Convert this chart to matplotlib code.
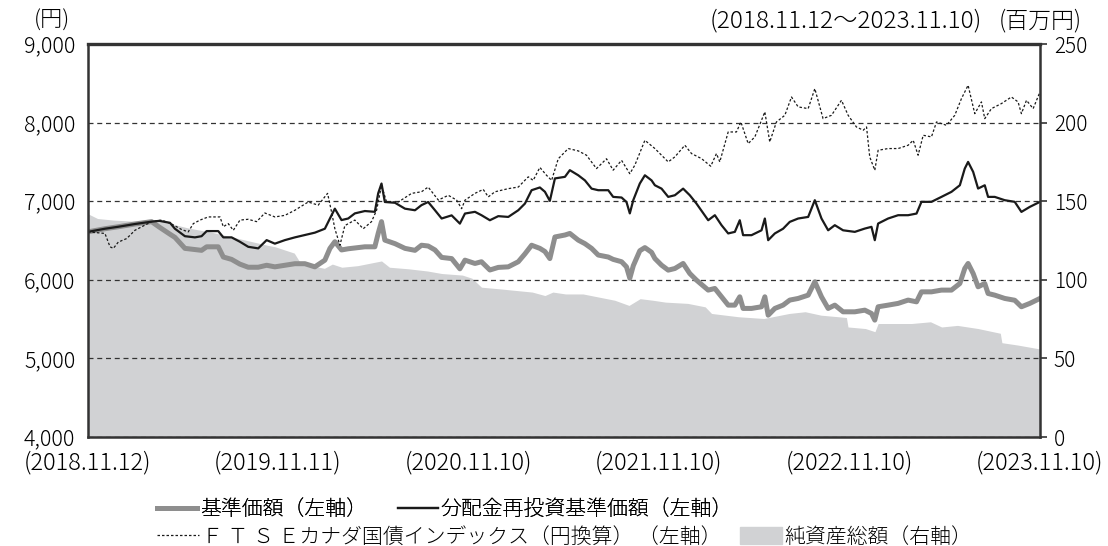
import matplotlib
matplotlib.use("Agg")
import matplotlib.pyplot as plt
import numpy as np
import pandas as pd
from matplotlib.lines import Line2D
from matplotlib.patches import Patch

plt.rcParams["font.family"] = ["Noto Sans CJK JP", "DejaVu Sans"]
plt.rcParams["font.weight"] = "light"

START = pd.Timestamp("2018-11-12")

# months elapsed since 2018.11.12
fund_m = [0.0, 1.07, 1.91, 2.96, 4.01, 4.5, 5.17, 5.48, 6.11, 6.74, 7.16, 7.48, 8.21, 8.53, 9.05, 9.57, 10.1, 10.73, 11.26,
          11.78, 12.41, 13.04, 13.67, 14.3, 14.93, 15.25, 15.56, 15.98, 16.4, 16.82, 17.45, 18.08, 18.29, 18.5, 18.71,
          19.35, 19.98, 20.61, 21.02, 21.44, 21.87, 22.29, 22.92, 23.44,
          23.76, 24.39, 24.8, 25.33, 25.86, 26.49, 27.12, 27.54, 27.96, 28.48, 28.8, 29.11, 29.43, 30.06, 30.37, 30.9,
          31.32, 31.74, 32.16, 32.79, 33.1, 33.63, 33.94, 34.15, 34.37, 34.78, 35.1, 35.52,
          35.73, 36.15, 36.57, 36.99, 37.51, 37.93, 38.35, 39.09, 39.51, 39.93, 40.35, 40.77, 41.08, 41.29, 41.82, 42.45,
          42.66, 42.87, 43.29, 43.81, 44.23, 44.76, 45.39, 45.81, 46.23, 46.65, 47.07, 47.59,
          48.33, 48.96, 49.38, 49.59, 49.8, 50.43, 51.06, 51.69, 52.22, 52.53, 53.16, 53.79, 54.42, 54.95, 55.26, 55.47,
          55.79, 56.1, 56.52, 56.73, 57.15, 57.78, 58.41, 58.83, 59.36, 60.0]

# 分配金再投資基準価額 (円)
reinvested = [6610, 6650, 6675, 6710, 6740, 6750, 6725, 6650, 6555, 6540, 6555, 6620, 6620, 6540, 6540, 6485, 6420, 6400, 6505,
              6460, 6505, 6540, 6570, 6600, 6650, 6780, 6905, 6760, 6780, 6845, 6875, 6865, 7100, 7225, 6990,
              6980, 6905, 6885, 6950, 6990, 6885, 6780, 6820, 6715,
              6843, 6865, 6822, 6758, 6810, 6800, 6885, 6970, 7140, 7175, 7120, 7004, 7290, 7310, 7395, 7330,
              7265, 7160, 7140, 7140, 7055, 7047, 6990, 6845, 7015, 7225, 7330, 7265,
              7203, 7160, 7055, 7076, 7160, 7076, 6970, 6758, 6822, 6695, 6590, 6610, 6758, 6568, 6568, 6630,
              6780, 6504, 6590, 6650, 6737, 6780, 6800, 7013, 6780, 6630, 6695, 6630,
              6610, 6652, 6674, 6504, 6716, 6780, 6822, 6822, 6843, 6992, 6992, 7055, 7119, 7203, 7415, 7500,
              7373, 7161, 7203, 7055, 7055, 7013, 6992, 6864, 6928, 6992]

# 基準価額 (円)
nav = [6610, 6650, 6675, 6710, 6740, 6670, 6580, 6540, 6400, 6385, 6375, 6420, 6420, 6290, 6260, 6200, 6160, 6160, 6185,
       6165, 6185, 6205, 6205, 6165, 6250, 6400, 6485, 6380, 6395, 6405, 6420, 6420, 6590, 6740, 6505,
       6460, 6400, 6375, 6440, 6430, 6380, 6285, 6270, 6140,
       6250, 6208, 6230, 6125, 6158, 6165, 6230, 6330, 6440, 6400, 6360, 6270, 6545, 6570, 6590, 6505,
       6460, 6400, 6315, 6290, 6260, 6230, 6165, 6020, 6180, 6370, 6410, 6350,
       6271, 6186, 6123, 6144, 6208, 6080, 5996, 5869, 5890, 5784, 5678, 5678, 5784, 5636, 5636, 5657,
       5784, 5550, 5636, 5678, 5742, 5763, 5805, 5975, 5784, 5636, 5678, 5593,
       5593, 5614, 5572, 5487, 5657, 5678, 5700, 5742, 5720, 5847, 5847, 5869, 5869, 5953, 6144, 6208,
       6080, 5911, 5953, 5826, 5805, 5763, 5740, 5657, 5700, 5763]

ftse_m = [0.0, 1.07, 1.39, 1.6, 1.91, 2.44, 2.96, 4.01, 4.64, 5.27, 5.9, 6.32, 6.64, 7.06, 7.58, 8.32, 8.53, 8.84, 9.16,
          9.58, 10.1, 10.63, 11.15,
          11.78, 12.41, 13.04, 13.88, 14.51, 15.1, 15.35, 15.56, 15.88, 16.19, 16.82, 17.35, 17.87, 18.19, 18.5, 18.82,
          19.56, 20.4, 21.02, 21.44, 22.08, 22.71, 23.23, 23.55,
          23.76, 24.39, 24.91, 25.23, 25.65, 26.49, 27.12, 27.75, 28.06, 28.48, 28.9, 29.22, 29.64, 30.27, 30.9, 31.42,
          32.05, 32.68, 33.1, 33.63, 34.15, 34.47, 35.1, 35.73,
          36.15, 36.57, 36.99, 37.62, 38.04, 38.67, 39.25, 39.61, 39.82, 40.35, 40.87, 41.15, 41.61, 42.03, 42.66, 42.97,
          43.39, 43.92, 44.34, 44.76, 45.39, 45.81, 46.33, 46.86, 47.49, 47.91,
          48.43, 48.86, 49.07, 49.27, 49.59, 49.8, 50.43, 51.06, 51.69, 52.01, 52.32, 52.64, 53.16, 53.48, 54.11, 54.63,
          55.05, 55.47, 55.89, 56.31, 56.52, 56.94, 57.57, 58.2, 58.62, 58.83, 59.15, 59.57, 60.0]

# FTSEカナダ国債インデックス（円換算）
ftse = [6610, 6590, 6420, 6400, 6480, 6525, 6630, 6740, 6760, 6710, 6640, 6610, 6715, 6760, 6800, 6800, 6675, 6715, 6630,
        6760, 6770, 6740, 6850,
        6800, 6820, 6885, 6990, 6950, 7100, 6865, 6650, 6440, 6690, 6760, 6650, 6740, 6885, 7200, 6990,
        6990, 7100, 7120, 7180, 7015, 7075, 7015, 6905,
        7013, 7100, 7150, 7055, 7120, 7160, 7180, 7310, 7265, 7430, 7330, 7265, 7540, 7670, 7640, 7585,
        7415, 7540, 7395, 7520, 7350, 7460, 7775, 7670,
        7585, 7500, 7564, 7712, 7606, 7542, 7445, 7606, 7500, 7881, 7881, 8008, 7733, 7818, 8136, 7754,
        8008, 8093, 8326, 8200, 8178, 8432, 8051, 8093, 8284, 8093,
        7945, 7903, 7945, 7564, 7394, 7648, 7670, 7670, 7712, 7775, 7585, 7839, 7818, 8008, 7966, 8093,
        8305, 8475, 8114, 8263, 8051, 8178, 8242, 8326, 8263, 8114, 8284, 8178, 8390]

na_m = [0, 0.6, 1.6, 3.4, 4.7, 6.3, 7.9, 9.6, 11.3, 11.8, 13.0, 13.4, 14.9, 15.4, 16.0, 17.0, 18.5, 19.0, 20.2, 21.4,
        22.3, 23.6, 24.2, 24.8, 25.9, 27.0, 28.0, 28.8, 29.3, 30.1, 31.2, 32.2, 33.2, 34.1, 34.8, 35.6, 36.4, 37.8,
        38.9, 39.3, 41.0, 42.6, 44.2, 45.2, 46.2, 47.3, 47.8, 47.9, 49.0, 49.6, 49.8, 51.9, 53.1, 53.8, 54.8, 56.1,
        57.5, 57.6, 58.6, 60.0]

# 純資産総額 (百万円)
net_assets = [142, 139, 138, 137, 137, 133, 130, 126, 122, 121, 117, 110.5, 107.3, 110, 108, 109, 112, 108, 107, 105.6,
              104, 103, 101, 95.3, 94.3, 93.2, 92.2, 90, 92.2, 91, 91, 89, 87, 83.7, 88, 87, 85.8, 85,
              82.8, 78.6, 76.5, 75.4, 78.6, 79.7, 77.5, 76.5, 76, 70, 69, 67, 72.2, 72.2, 73.3, 70, 71, 69,
              66, 60, 58.5, 56]

tick_dates = ["2018-11-12", "2019-11-11", "2020-11-10", "2021-11-10", "2022-11-10", "2023-11-10"]
tick_labels = ["(2018.11.12)", "(2019.11.11)", "(2020.11.10)", "(2021.11.10)", "(2022.11.10)", "(2023.11.10)"]
left_ticks = [4000, 5000, 6000, 7000, 8000, 9000]
right_ticks = [0, 50, 100, 150, 200, 250]

C_AREA = "#d1d2d4"
C_NAV = "#8e8e8e"
C_DARK = "#1a1a1a"
C_FRAME = "#333333"


def to_dates(months):
    return START + pd.to_timedelta(np.asarray(months) * 30.4, unit="D")


fig = plt.figure(figsize=(11.08, 5.46), dpi=100)
ax = fig.add_axes([0.0794, 0.1996, 0.8592, 0.7198])
ax2 = ax.twinx()

ax2.fill_between(to_dates(na_m), net_assets, 0, color=C_AREA, lw=0)
ax2.set_ylim(0, 250)
ax2.set_yticks(right_ticks)
ax2.set_yticklabels([f"{v:,}" for v in right_ticks])
ax2.tick_params(axis="y", direction="out", length=5, width=1.2, color=C_FRAME, pad=5, labelsize=15)
for s in ax2.spines.values():
    s.set_visible(False)

ax.set_zorder(ax2.get_zorder() + 1)
ax.patch.set_visible(False)

ax.plot(to_dates(fund_m), nav, color=C_NAV, lw=3.6, solid_joinstyle="round")
ax.plot(to_dates(ftse_m), ftse, color=C_DARK, lw=0.9, ls=(0, (2, 1.6)))
ax.plot(to_dates(fund_m), reinvested, color=C_DARK, lw=1.6)

ax.set_ylim(4000, 9000)
ax.set_yticks(left_ticks)
ax.set_yticklabels([f"{v:,}" for v in left_ticks])
ax.grid(axis="y", ls=(0, (4, 3)), color=C_FRAME, lw=0.9)
ax.set_axisbelow(True)
ax.tick_params(axis="y", length=0, pad=9, labelsize=15.5)

ticks = pd.to_datetime(tick_dates)
ax.set_xlim(ticks[0], ticks[-1])
ax.set_xticks(ticks)
ax.set_xticklabels(tick_labels)
ax.tick_params(axis="x", length=0, pad=10, labelsize=17)

for s in ax.spines.values():
    s.set_color(C_FRAME)
    s.set_linewidth(1.8)
ax.spines["top"].set_linewidth(2.4)

fig.text(52 / 1108, 1 - 21 / 546, "(円)", ha="center", va="center", fontsize=16)
fig.text(846 / 1108, 1 - 21 / 546, "(2018.11.12～2023.11.10)", ha="center", va="center", fontsize=17.5)
fig.text(1040 / 1108, 1 - 21 / 546, "(百万円)", ha="center", va="center", fontsize=16.5)

leg1 = fig.legend(
    [Line2D([], [], color=C_NAV, lw=3.6), Line2D([], [], color=C_DARK, lw=1.6)],
    ["基準価額（左軸）", "分配金再投資基準価額（左軸）"],
    ncol=2, loc="center left", bbox_to_anchor=(157 / 1108, 1 - 509 / 546), frameon=False,
    fontsize=15, handlelength=1.9, handletextpad=0.15, columnspacing=1.5, borderpad=0, borderaxespad=0,
)
fig.legend(
    [Line2D([], [], color=C_DARK, lw=0.9, ls=(0, (2, 1.6))), Patch(color=C_AREA)],
    ["Ｆ Ｔ Ｓ Ｅカナダ国債インデックス（円換算） （左軸）", "純資産総額（右軸）"],
    ncol=2, loc="center left", bbox_to_anchor=(157 / 1108, 1 - 537 / 546), frameon=False,
    fontsize=15, handlelength=2.0, handleheight=0.85, handletextpad=0.15, columnspacing=0.9,
    borderpad=0, borderaxespad=0,
)
fig.add_artist(leg1)

fig.savefig("out.png", dpi=100)
